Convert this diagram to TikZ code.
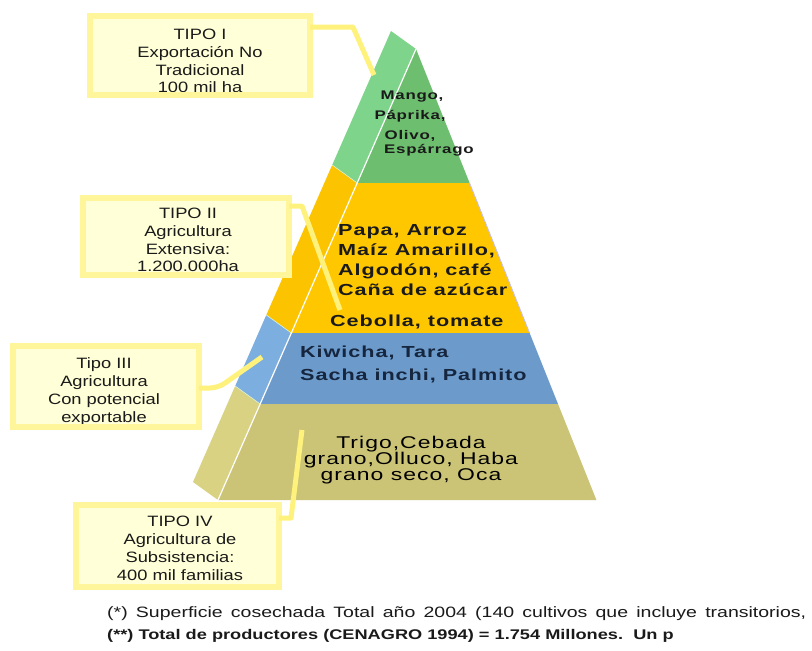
\documentclass[tikz,border=0pt]{standalone}
\usepackage{fontspec}
\setmainfont{Liberation Sans}
\newfontfamily\labfont[FakeStretch=1.22]{Liberation Sans}
\newfontfamily\pyrfont[FakeStretch=1.35,LetterSpace=6]{Liberation Sans}
\newfontfamily\footfont[FakeStretch=1.3]{Liberation Sans}
\definecolor{gFront}{HTML}{6DBE6E}
\definecolor{gSide}{HTML}{7ED48A}
\definecolor{yFront}{HTML}{FFC700}
\definecolor{ySide}{HTML}{FBC300}
\definecolor{bFront}{HTML}{6C9BCB}
\definecolor{bSide}{HTML}{7CAEDF}
\definecolor{oFront}{HTML}{CBC476}
\definecolor{oSide}{HTML}{D8D282}
\definecolor{boxfill}{HTML}{FFFFD8}
\definecolor{boxline}{HTML}{FFF59A}
\definecolor{connc}{HTML}{FFF27C}
\definecolor{txtdark}{HTML}{1A1A1A}
\definecolor{txtnavy}{HTML}{16263F}
\tikzset{
  boxnode/.style={rectangle, fill=boxfill, draw=none, outer sep=0pt, inner sep=0pt},
  boxedge/.style={draw=boxline, line width=6pt},
  labtext/.style={inner sep=0pt, align=center, text=txtdark, font=\labfont\fontsize{15}{17.8}\selectfont},
  pyrtext/.style={inner sep=0pt, anchor=base west, text=txtdark, font=\pyrfont\bfseries\fontsize{16}{20}\selectfont},
  greentext/.style={inner sep=0pt, anchor=base, text=txtdark, font=\pyrfont\bfseries\fontsize{12.5}{14}\selectfont},
  olivetext/.style={inner sep=0pt, anchor=base, text=black, font=\pyrfont\fontsize{17}{16}\selectfont},
  conn/.style={draw=connc, line width=5pt, line join=round},
  foot/.style={inner sep=0pt, anchor=base west, text=txtdark}
}
\begin{document}
\begin{tikzpicture}[x=1pt,y=-1pt]
\useasboundingbox (0,0) rectangle (812,651);
\fill[white] (0,0) rectangle (812,651);

% pyramid corner points
\coordinate (A)  at (416,49);
\coordinate (As) at (391,31);
\coordinate (L1) at (357.2,183);
\coordinate (L2) at (291.3,333);
\coordinate (L3) at (260.2,404);
\coordinate (L4) at (218,500);
\coordinate (R1) at (469.6,183);
\coordinate (R2) at (529.6,333);
\coordinate (R3) at (558,404);
\coordinate (R4) at (596.4,500);
\coordinate (S1) at (332.2,165);
\coordinate (S2) at (266.3,315);
\coordinate (S3) at (235.2,386);
\coordinate (S4) at (193,482);

% side faces
\fill[gSide] (As) -- (A) -- (L1) -- (S1) -- cycle;
\fill[ySide] (S1) -- (L1) -- (L2) -- (S2) -- cycle;
\fill[bSide] (S2) -- (L2) -- (L3) -- (S3) -- cycle;
\fill[oSide] (S3) -- (L3) -- (L4) -- (S4) -- cycle;
% front faces
\fill[gFront] (A) -- (R1) -- (L1) -- cycle;
\fill[yFront] (L1) -- (R1) -- (R2) -- (L2) -- cycle;
\fill[bFront] (L2) -- (R2) -- (R3) -- (L3) -- cycle;
\fill[oFront] (L3) -- (R3) -- (R4) -- (L4) -- cycle;
\draw[white, line width=1.2pt] (A) -- (L4);
\draw[white!70!gSide, line width=0.6pt] (L1) -- (S1) (L2) -- (S2) (L3) -- (S3);
\draw[blue!25, line width=0.8pt] (R1) -- (R2);

% pyramid texts
\node[greentext] (t1) at (412,99) {Mango,};
\node[greentext] (t2) at (410,119) {Páprika,};
\node[greentext] (t3) at (410,139) {Olivo,};
\node[greentext, anchor=base west] (t4) at (384,153) {Espárrago};

\node[pyrtext] (y1) at (338,235) {Papa, Arroz};
\node[pyrtext] (y2) at (338,255) {Maíz Amarillo,};
\node[pyrtext] (y3) at (338,275) {Algodón, café};
\node[pyrtext] (y4) at (338,295) {Caña de azúcar};
\node[pyrtext] (y5) at (330,326) {Cebolla, tomate};

\node[pyrtext, text=txtnavy] (k1) at (300,357) {Kiwicha, Tara};
\node[pyrtext, text=txtnavy] (k2) at (300,380) {Sacha inchi, Palmito};

\node[olivetext] (o1) at (411,448) {Trigo,Cebada};
\node[olivetext] (o2) at (411,464) {grano,Olluco, Haba};
\node[olivetext] (o3) at (411,480) {grano seco, Oca};

% label boxes
\node[boxnode, minimum width=220pt, minimum height=79pt] (b1) at (200,55.5) {};
\node[boxnode, minimum width=206pt, minimum height=77pt] (b2) at (186,236.5) {};
\node[boxnode, minimum width=186pt, minimum height=81pt] (b3) at (106,386.5) {};
\node[boxnode, minimum width=203pt, minimum height=82pt] (b4) at (177.5,546) {};

\node[labtext] (l1) at (200,61) {TIPO I\\Exportación No\\Tradicional\\100 mil ha};
\node[labtext] (l2) at (188,240) {TIPO II\\Agricultura\\Extensiva:\\1.200.000ha};
\node[labtext] (l3) at (104,391.5) {Tipo III\\Agricultura\\Con potencial\\exportable};
\node[labtext] (l4) at (180,548.5) {TIPO IV\\Agricultura de\\Subsistencia:\\400 mil familias};

\foreach \b in {b1,b2,b3,b4}
  \draw[boxedge] (\b.north west) rectangle (\b.south east);

% connectors
\coordinate (k1c) at (353,27);
\coordinate (p1) at (374,75);
\coordinate (k2c) at (302,206);
\coordinate (p2) at (340,310);
\coordinate (k3c) at (218,388);
\coordinate (p3) at (262,357);
\coordinate (k4c) at (291,518);
\coordinate (p4) at (302,430);
\draw[conn] (b1.east |- k1c) -- (k1c) -- (p1);
\draw[conn] (b2.east |- k2c) -- (k2c) -- (p2);
\draw[conn, rounded corners=8pt] (b3.east |- k3c) -- (k3c) -- (p3);
\draw[conn] (b4.east |- k4c) -- (k4c) -- (p4);

% footer
\node[foot, font=\footfont\fontsize{15}{18}\selectfont] (f1) at (107,617)
  {\makebox[699pt][s]{(*) Superficie cosechada Total año 2004 (140 cultivos que incluye transitorios,}};
\node[foot, font=\footfont\bfseries\fontsize{14}{18}\selectfont] (f2) at (107,639)
  {(**) Total de productores (CENAGRO 1994) = 1.754 Millones.\ \ Un p};
\end{tikzpicture}
\end{document}
